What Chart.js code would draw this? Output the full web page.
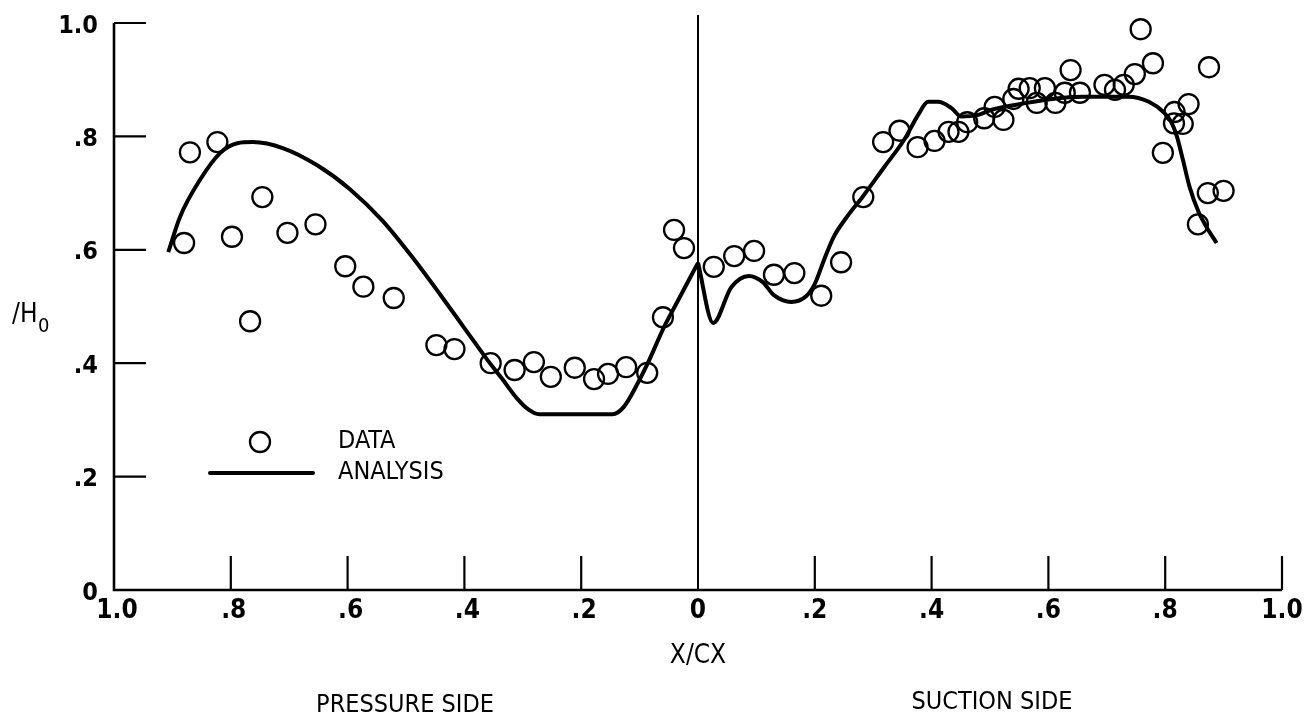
<!DOCTYPE html>
<html>
<head>
<meta charset="utf-8">
<script src="https://cdn.jsdelivr.net/npm/chart.js@4.4.1/dist/chart.umd.min.js"></script>
<style>
  html, body { margin: 0; padding: 0; background: #fff; }
  #wrap { width: 1309px; height: 720px; }
</style>
</head>
<body>
<div id="wrap"><canvas id="chart" width="1309" height="720"></canvas></div>
<script>
// pressure side: X/CX measured from the leading edge towards the left
const pressureDataX = [0.880, 0.870, 0.823, 0.798, 0.767, 0.746, 0.703, 0.655, 0.604, 0.573, 0.521,
  0.448, 0.417, 0.355, 0.314, 0.281, 0.252, 0.211, 0.178, 0.154, 0.123, 0.087, 0.060, 0.041, 0.024];
const pressureDataY = [0.612, 0.772, 0.790, 0.623, 0.474, 0.693, 0.630, 0.645, 0.571, 0.535, 0.515,
  0.432, 0.425, 0.400, 0.388, 0.402, 0.376, 0.392, 0.372, 0.381, 0.393, 0.383, 0.481, 0.635, 0.603];

// suction side
const suctionDataX = [0.027, 0.062, 0.096, 0.130, 0.165, 0.211, 0.245, 0.283, 0.317, 0.345, 0.376,
  0.405, 0.429, 0.446, 0.461, 0.490, 0.508, 0.523, 0.540, 0.549, 0.568, 0.580, 0.594, 0.612, 0.628,
  0.638, 0.654, 0.696, 0.714, 0.729, 0.748, 0.758, 0.779, 0.796, 0.816, 0.815, 0.830, 0.840, 0.856,
  0.873, 0.900, 0.875];
const suctionDataY = [0.570, 0.589, 0.598, 0.556, 0.559, 0.519, 0.578, 0.693, 0.790, 0.810, 0.781,
  0.792, 0.808, 0.808, 0.825, 0.832, 0.852, 0.829, 0.866, 0.884, 0.885, 0.859, 0.885, 0.859, 0.877,
  0.917, 0.877, 0.891, 0.882, 0.891, 0.910, 0.989, 0.929, 0.771, 0.843, 0.823, 0.822, 0.857, 0.645,
  0.700, 0.704, 0.922];

// analysis curves
const pressureCurveX = [0.907, 0.887, 0.853, 0.818, 0.789, 0.762, 0.710, 0.652, 0.595, 0.540, 0.490,
  0.440, 0.400, 0.360, 0.335, 0.310, 0.290, 0.272, 0.146, 0.127, 0.103, 0.086, 0.058, 0.034, 0];
const pressureCurveY = [0.596, 0.658, 0.723, 0.771, 0.788, 0.790, 0.779, 0.749, 0.706, 0.651, 0.588,
  0.519, 0.462, 0.405, 0.372, 0.338, 0.318, 0.310, 0.310, 0.323, 0.365, 0.400, 0.464, 0.511, 0.577];
const suctionCurveX = [0, 0.026, 0.057, 0.087, 0.111, 0.130, 0.160, 0.185, 0.200, 0.215, 0.232, 0.255,
  0.283, 0.319, 0.353, 0.377, 0.394, 0.411, 0.434, 0.451, 0.480, 0.503, 0.540, 0.606, 0.657, 0.686,
  0.737, 0.772, 0.797, 0.810, 0.820, 0.830, 0.842, 0.857, 0.872, 0.888];
const suctionCurveY = [0.577, 0.471, 0.534, 0.554, 0.543, 0.520, 0.508, 0.518, 0.540, 0.580, 0.622, 0.658,
  0.695, 0.746, 0.794, 0.838, 0.861, 0.861, 0.850, 0.835, 0.838, 0.847, 0.855, 0.866, 0.870, 0.870,
  0.870, 0.861, 0.843, 0.826, 0.800, 0.760, 0.710, 0.667, 0.638, 0.612];

const yTicks = [0, 0.2, 0.4, 0.6, 0.8, 1.0];
const yTickLabels = ['0', '.2', '.4', '.6', '.8', '1.0'];
const pressureTicks = [1.0, 0.8, 0.6, 0.4, 0.2];
const pressureTickLabels = ['1.0', '.8', '.6', '.4', '.2'];
const suctionTicks = [0, 0.2, 0.4, 0.6, 0.8, 1.0];
const suctionTickLabels = ['0', '.2', '.4', '.6', '.8', '1.0'];

const FONT = '"DejaVu Sans Condensed", "Liberation Sans Narrow", "DejaVu Sans", sans-serif';

const toPoints = (xs, ys) => xs.map((x, i) => ({ x: x, y: ys[i] }));

// axes, ticks and labels drawn by hand to look like the old report figure
const paperAxes = {
  id: 'paperAxes',
  beforeDatasetsDraw(chart) {
    const ctx = chart.ctx;
    const xP = chart.scales.xP, xS = chart.scales.xS, y = chart.scales.y;
    const left = xP.getPixelForValue(1);
    const right = xS.getPixelForValue(1);
    const zero = xS.getPixelForValue(0);
    const bottom = y.getPixelForValue(0);
    const top = y.getPixelForValue(1);

    ctx.save();
    ctx.strokeStyle = '#000';
    ctx.lineCap = 'butt';

    ctx.lineWidth = 2.6;
    ctx.beginPath();
    ctx.moveTo(left, top);
    ctx.lineTo(left, bottom);
    ctx.lineTo(right, bottom);
    ctx.stroke();

    ctx.lineWidth = 2.2;
    ctx.beginPath();
    yTicks.forEach(v => {
      if (v === 0) return;
      const py = y.getPixelForValue(v);
      ctx.moveTo(left, py);
      ctx.lineTo(left + 32, py);
    });
    pressureTicks.forEach(v => {
      if (v === 1) return;
      const px = xP.getPixelForValue(v);
      ctx.moveTo(px, bottom);
      ctx.lineTo(px, bottom - 34);
    });
    suctionTicks.forEach(v => {
      if (v === 0) return;
      const px = xS.getPixelForValue(v);
      ctx.moveTo(px, bottom);
      ctx.lineTo(px, bottom - 34);
    });
    ctx.stroke();

    // leading edge line
    ctx.lineWidth = 2;
    ctx.beginPath();
    ctx.moveTo(zero, bottom);
    ctx.lineTo(zero, top - 8);
    ctx.stroke();
    ctx.restore();
  },
  afterDraw(chart) {
    const ctx = chart.ctx;
    const xP = chart.scales.xP, xS = chart.scales.xS, y = chart.scales.y;
    const area = chart.chartArea;
    const left = xP.getPixelForValue(1);
    const zero = xS.getPixelForValue(0);
    const bottom = y.getPixelForValue(0);

    ctx.save();
    ctx.fillStyle = '#000';
    ctx.strokeStyle = '#000';

    ctx.font = 'bold 25px ' + FONT;
    ctx.textAlign = 'right';
    ctx.textBaseline = 'middle';
    yTicks.forEach((v, i) => {
      ctx.fillText(yTickLabels[i], left - 16, y.getPixelForValue(v) + 3);
    });

    ctx.font = 'bold 26px ' + FONT;
    ctx.textAlign = 'center';
    ctx.textBaseline = 'top';
    pressureTicks.forEach((v, i) => {
      ctx.fillText(pressureTickLabels[i], xP.getPixelForValue(v) + 3, bottom + 8);
    });
    suctionTicks.forEach((v, i) => {
      ctx.fillText(suctionTickLabels[i], xS.getPixelForValue(v), bottom + 8);
    });

    ctx.font = '26px ' + FONT;
    ctx.textBaseline = 'middle';
    ctx.fillText('X/CX', zero, bottom + 66);
    ctx.font = '25px ' + FONT;
    ctx.fillText('PRESSURE SIDE', 405, bottom + 115);
    ctx.fillText('SUCTION SIDE', 992, bottom + 112);

    ctx.textAlign = 'left';
    ctx.textBaseline = 'alphabetic';
    ctx.font = '26px ' + FONT;
    ctx.fillText('/H', 12, 322);
    ctx.font = '20px ' + FONT;
    ctx.fillText('0', 38, 332);

    // legend
    const lx = area.left;
    ctx.lineWidth = 2.3;
    ctx.beginPath();
    ctx.arc(lx + 146, 442, 10, 0, Math.PI * 2);
    ctx.stroke();
    ctx.lineWidth = 4;
    ctx.lineCap = 'round';
    ctx.beginPath();
    ctx.moveTo(lx + 96, 473);
    ctx.lineTo(lx + 199, 473);
    ctx.stroke();
    ctx.font = '25px ' + FONT;
    ctx.textBaseline = 'middle';
    ctx.fillText('DATA', lx + 224, 441);
    ctx.fillText('ANALYSIS', lx + 224, 472);
    ctx.restore();
  }
};

const circleStyle = {
  type: 'scatter',
  pointStyle: 'circle',
  pointRadius: 10,
  pointHoverRadius: 10,
  pointBorderWidth: 2.3,
  pointBorderColor: '#000',
  pointBackgroundColor: 'rgba(0,0,0,0)',
  showLine: false,
  clip: false
};

const lineStyle = {
  type: 'line',
  borderColor: '#000',
  borderWidth: 4,
  pointRadius: 0,
  fill: false,
  cubicInterpolationMode: 'monotone',
  clip: false
};

new Chart(document.getElementById('chart').getContext('2d'), {
  data: {
    datasets: [
      Object.assign({ label: 'Analysis (pressure)', xAxisID: 'xP', data: toPoints(pressureCurveX, pressureCurveY) }, lineStyle),
      Object.assign({ label: 'Analysis (suction)', xAxisID: 'xS', data: toPoints(suctionCurveX, suctionCurveY) }, lineStyle),
      Object.assign({ label: 'Data (pressure)', xAxisID: 'xP', data: toPoints(pressureDataX, pressureDataY) }, circleStyle),
      Object.assign({ label: 'Data (suction)', xAxisID: 'xS', data: toPoints(suctionDataX, suctionDataY) }, circleStyle)
    ]
  },
  options: {
    responsive: false,
    animation: false,
    layout: { padding: { left: 114, right: 27, top: 23, bottom: 130 } },
    scales: {
      xP: { type: 'linear', display: false, reverse: true, min: -1, max: 1 },
      xS: { type: 'linear', display: false, min: -1, max: 1 },
      y: { type: 'linear', display: false, min: 0, max: 1 }
    },
    plugins: {
      legend: { display: false },
      tooltip: { enabled: false }
    }
  },
  plugins: [paperAxes]
});
</script>
</body>
</html>
